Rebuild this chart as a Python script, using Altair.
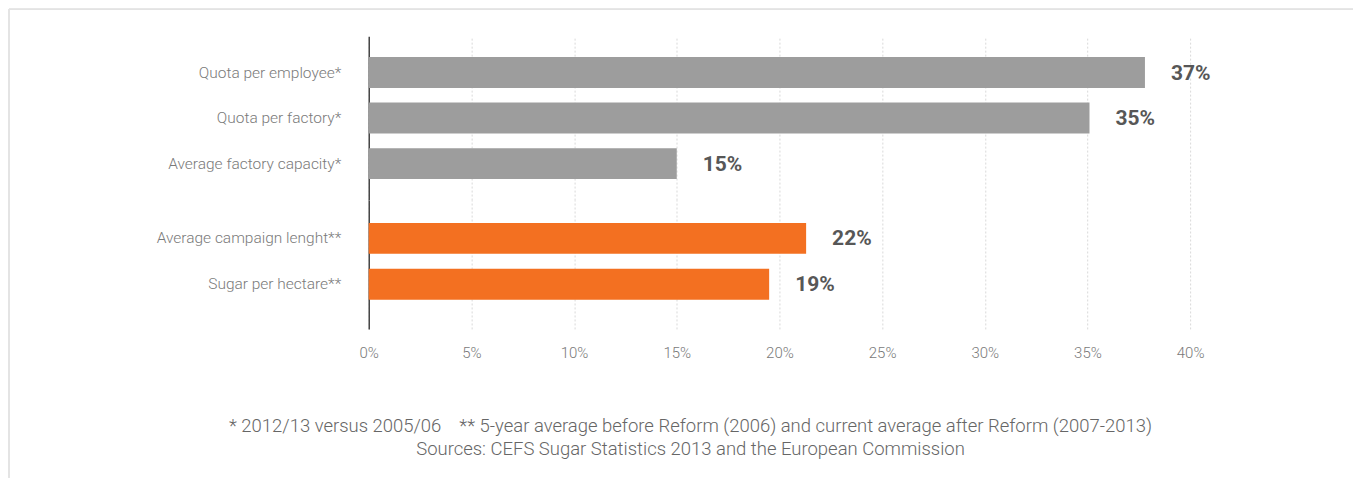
import altair as alt
import pandas as pd

cats1 = ["Quota per employee*", "Quota per factory*", "Average factory capacity*"]
vals1 = [37.8, 35.1, 15.0]
labels1 = ["37%", "35%", "15%"]

cats2 = ["Average campaign lenght**", "Sugar per hectare**"]
vals2 = [21.3, 19.5]
labels2 = ["22%", "19%"]

ticks = [0, 5, 10, 15, 20, 25, 30, 35, 40]
footer = [
    "* 2012/13 versus 2005/06\u00a0\u00a0\u00a0\u00a0** 5-year average before Reform (2006) and current average after Reform (2007-2013)",
    "Sources: CEFS Sugar Statistics 2013 and the European Commission",
]

df1 = pd.DataFrame({"cat": cats1, "val": vals1, "lab": labels1})
df2 = pd.DataFrame({"cat": cats2, "val": vals2, "lab": labels2})

FONT = "Roboto"
LABEL_COLOR = "#7a7a7a"
W = 822


def panel(df, color, h, pin, pout, align, show_x):
    xaxis = alt.Axis(
        values=ticks,
        labelExpr="datum.value + '%'",
        title=None,
        domain=False,
        ticks=False,
        grid=True,
        gridColor="#d9d9d9",
        gridDash=[2, 2],
        gridWidth=1,
        labels=show_x,
        labelFlush=False,
        labelFont=FONT,
        labelFontSize=15,
        labelColor=LABEL_COLOR,
        labelFontWeight=300,
        labelPadding=17,
    )
    x = alt.X("val:Q", scale=alt.Scale(domain=[0, 40], nice=False), axis=xaxis)
    y = alt.Y(
        "cat:N",
        sort=list(df["cat"]),
        scale=alt.Scale(paddingInner=pin, paddingOuter=pout, align=align),
        axis=alt.Axis(
            title=None,
            ticks=False,
            domain=True,
            domainColor="#444444",
            domainWidth=1.5,
            labelFont=FONT,
            labelFontSize=15.5,
            labelFontWeight=300,
            labelColor=LABEL_COLOR,
            labelPadding=28,
            labelLimit=400,
            grid=False,
        ),
    )
    bars = alt.Chart(df).mark_bar(color=color).encode(x=x, y=y)
    text = alt.Chart(df).mark_text(
        align="left", baseline="middle", dx=26, dy=1, font=FONT, fontSize=21,
        fontWeight="bold", color="#575757"
    ).encode(x="val:Q", y=alt.Y("cat:N", sort=list(df["cat"])), text="lab:N")
    return alt.layer(bars, text).properties(width=W, height=h)


p1 = panel(df1, "#9d9d9d", 164, 0.32, 0.46, 0.5, False)
border_top = alt.Chart(df1).mark_rule(color="#e3e3e3", strokeWidth=1.5).encode(
    x=alt.value(-360), x2=alt.value(985), y=alt.value(-27)
)
border_left = alt.Chart(df1).mark_rule(color="#e3e3e3", strokeWidth=1.5).encode(
    x=alt.value(-360), y=alt.value(-27), y2=alt.value(442)
)
p1 = alt.layer(p1, border_top, border_left)
p2 = panel(df2, "#f37021", 129, 0.326, 0.565, 0.44, True).properties(
    title=alt.TitleParams(
        text=footer,
        orient="bottom",
        anchor="middle",
        font=FONT,
        fontSize=18.5,
        fontWeight=300,
        color="#666666",
        lineHeight=23,
        offset=56,
        dx=-89,
    )
)

chart = alt.vconcat(p1, p2, spacing=0, bounds="flush").properties(
    padding=0,
).configure_view(stroke=None).configure_concat(spacing=0)

chart.save("out.html", embed_options={"renderer": "svg", "actions": False})
